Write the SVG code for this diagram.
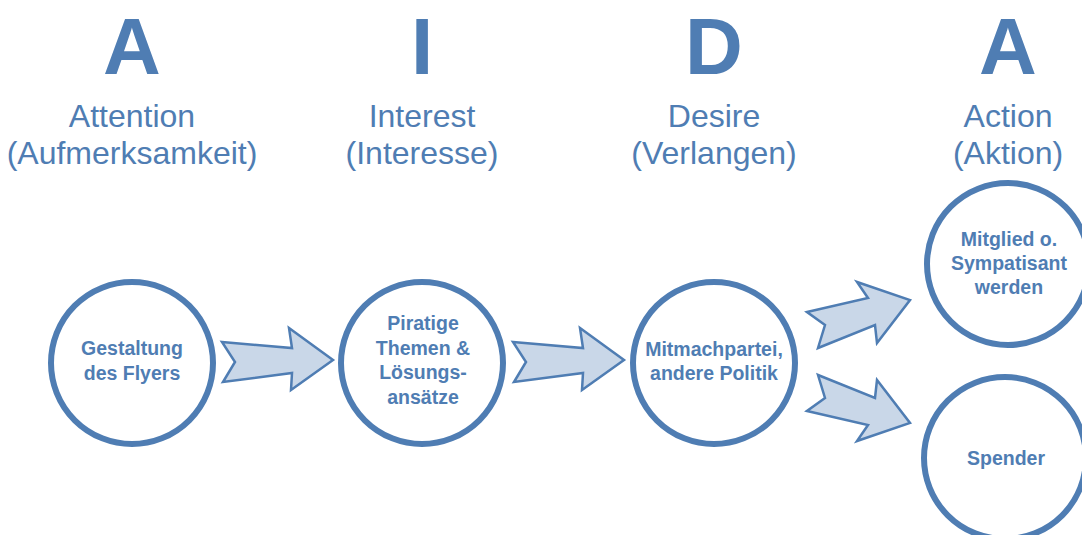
<svg xmlns="http://www.w3.org/2000/svg" width="1082" height="535" viewBox="0 0 1082 535">
<style>
.big{font-family:"Liberation Sans",Arial,sans-serif;font-weight:bold;font-size:80px;fill:#4f7db3;text-anchor:middle}
.sub{font-family:"Liberation Sans",Arial,sans-serif;font-size:32px;fill:#4f7db3;text-anchor:middle}
.lbl{font-family:"Liberation Sans",Arial,sans-serif;font-weight:bold;font-size:19.5px;fill:#4f7db3;text-anchor:middle}
.node circle{fill:#ffffff;stroke:#4f7db3;stroke-width:6}
.arr{fill:#c9d7e8;stroke:#4f7db3;stroke-width:2.5;stroke-linejoin:miter}
</style>
<rect width="1082" height="535" fill="#ffffff"/>
<g id="headings">
<text class="big" x="132" y="74">A</text>
<text class="sub" x="132" y="127">Attention</text>
<text class="sub" x="132" y="164">(Aufmerksamkeit)</text>
<text class="big" x="422" y="74">I</text>
<text class="sub" x="422" y="127">Interest</text>
<text class="sub" x="422" y="164">(Interesse)</text>
<text class="big" x="714" y="74">D</text>
<text class="sub" x="714" y="127">Desire</text>
<text class="sub" x="714" y="164">(Verlangen)</text>
<text class="big" x="1008" y="74">A</text>
<text class="sub" x="1008" y="127">Action</text>
<text class="sub" x="1008" y="164">(Aktion)</text>
</g>
<g id="connectors">
<polygon class="arr" points="222,342 292,348 289,328 333,360 291,390 292,373 223,382 235,362"/>
<polygon class="arr" points="513,342 583,348 580,328 624,360 582,390 583,373 514,382 526,362"/>
<polygon class="arr" points="807,312 868,298 857,282 910,300 877,343 875,325 818,348 825,325"/>
<polygon class="arr" points="807,411 868,425 857,441 910,423 877,380 875,398 818,375 825,398"/>
</g>
<g id="n1" class="node">
<circle cx="132" cy="363" r="81"/>
<text class="lbl" x="132" y="355">Gestaltung</text>
<text class="lbl" x="132" y="380">des Flyers</text>
</g>
<g id="n2" class="node">
<circle cx="422" cy="363" r="81"/>
<text class="lbl" x="423" y="330">Piratige</text>
<text class="lbl" x="423" y="355">Themen &amp;</text>
<text class="lbl" x="423" y="379">Lösungs-</text>
<text class="lbl" x="423" y="404">ansätze</text>
</g>
<g id="n3" class="node">
<circle cx="714" cy="363" r="81"/>
<text class="lbl" x="714" y="356">Mitmachpartei,</text>
<text class="lbl" x="714" y="380">andere Politik</text>
</g>
<g id="n4" class="node">
<circle cx="1008" cy="264" r="81"/>
<text class="lbl" x="1009" y="246">Mitglied o.</text>
<text class="lbl" x="1009" y="270">Sympatisant</text>
<text class="lbl" x="1009" y="294">werden</text>
</g>
<g id="n5" class="node">
<circle cx="1005" cy="458" r="81"/>
<text class="lbl" x="1006" y="465">Spender</text>
</g>
</svg>
